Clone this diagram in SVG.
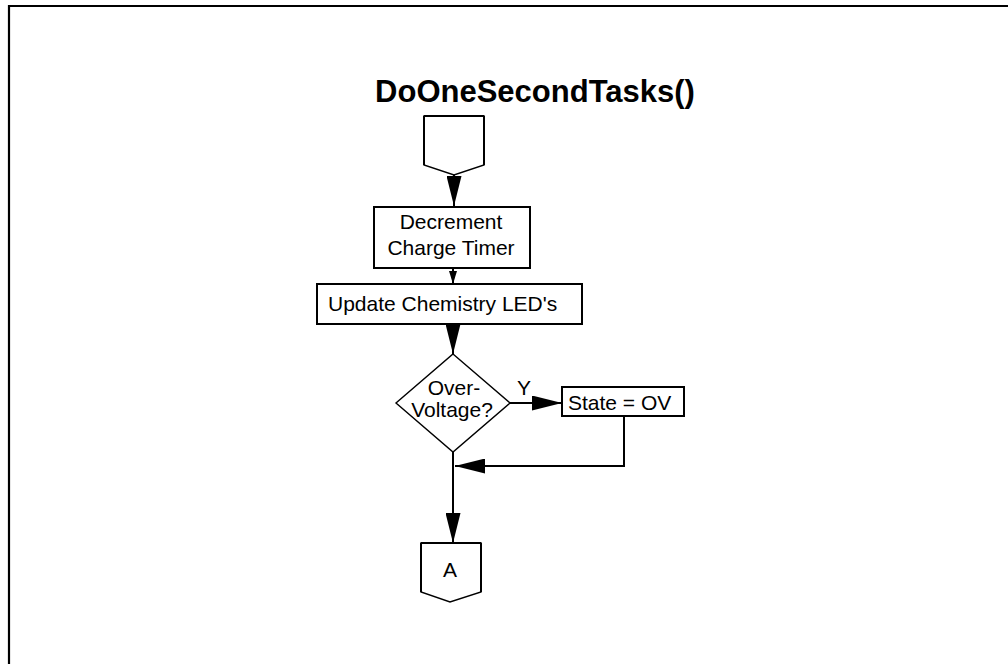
<svg xmlns="http://www.w3.org/2000/svg" width="1008" height="664" viewBox="0 0 1008 664">
  <style>
    .box { fill: #ffffff; stroke: #000000; stroke-width: 2; }
    .thin { fill: #ffffff; stroke: #000000; stroke-width: 1.4; }
    .txt { font-family: "Liberation Sans", Arial, sans-serif; font-size: 21px; fill: #000000; }
    .title { font-family: "Liberation Sans", Arial, sans-serif; font-size: 31px; font-weight: bold; fill: #000000; }
    .conn { fill: none; stroke: #000000; stroke-width: 2; }
  </style>
  <defs>
    <marker id="arrow" viewBox="0 0 30 15" refX="30" refY="7.5" markerWidth="30" markerHeight="15" markerUnits="userSpaceOnUse" orient="auto">
      <path d="M0,0 L30,7.5 L0,15 Z" fill="#000000"/>
    </marker>
    <marker id="arrowSmall" viewBox="0 0 13 8" refX="13" refY="4" markerWidth="13" markerHeight="8" markerUnits="userSpaceOnUse" orient="auto">
      <path d="M0,0 L13,4 L0,8 Z" fill="#000000"/>
    </marker>
  </defs>
  <rect width="1008" height="664" fill="#ffffff"/>
  <path d="M9,664 V6 H1008" fill="none" stroke="#000000" stroke-width="2.2"/>

  <g id="title">
    <text class="title" x="535" y="102" text-anchor="middle">DoOneSecondTasks()</text>
  </g>

  <g id="start">
    <polygon class="thin" points="424,116 484,116 484,165 454,175 424,165"/>
    <path d="M424,116 H484 M424,116 V165 M484,116 V165" stroke="#000000" stroke-width="2" fill="none"/>
  </g>

  <g id="decrement">
    <rect class="box" x="374" y="207" width="156" height="61"/>
    <text class="txt" x="451" y="229" text-anchor="middle">Decrement</text>
    <text class="txt" x="451" y="255" text-anchor="middle">Charge Timer</text>
  </g>

  <g id="update">
    <rect class="box" x="317" y="284" width="265" height="40"/>
    <text class="txt" x="328" y="311">Update Chemistry LED's</text>
  </g>

  <g id="decision">
    <polygon class="thin" points="453,354 510,403 453,452 396,403"/>
    <text class="txt" x="454" y="395" text-anchor="middle">Over-</text>
    <text class="txt" x="452" y="417" text-anchor="middle">Voltage?</text>
  </g>

  <g id="stateov">
    <rect class="box" x="562" y="387" width="122" height="29"/>
    <text class="txt" x="568" y="410">State = OV</text>
  </g>

  <g id="connA">
    <polygon class="thin" points="421,543 481,543 481,592 450,602 421,592"/>
    <path d="M421,543 H481 M421,543 V592 M481,543 V592" stroke="#000000" stroke-width="2" fill="none"/>
    <text class="txt" x="450" y="577" text-anchor="middle">A</text>
  </g>

  <g id="connectors">
    <path class="conn" d="M454,175 V206" marker-end="url(#arrow)"/>
    <path class="conn" d="M453,268 V284" marker-end="url(#arrowSmall)"/>
    <path class="conn" d="M453,324 V354" marker-end="url(#arrow)"/>
    <path class="conn" d="M510,403 H562" marker-end="url(#arrow)"/>
    <text class="txt" x="517" y="395">Y</text>
    <path class="conn" d="M624,416 V466 H455" marker-end="url(#arrow)"/>
    <path class="conn" d="M453,452 V543" marker-end="url(#arrow)"/>
  </g>
</svg>
